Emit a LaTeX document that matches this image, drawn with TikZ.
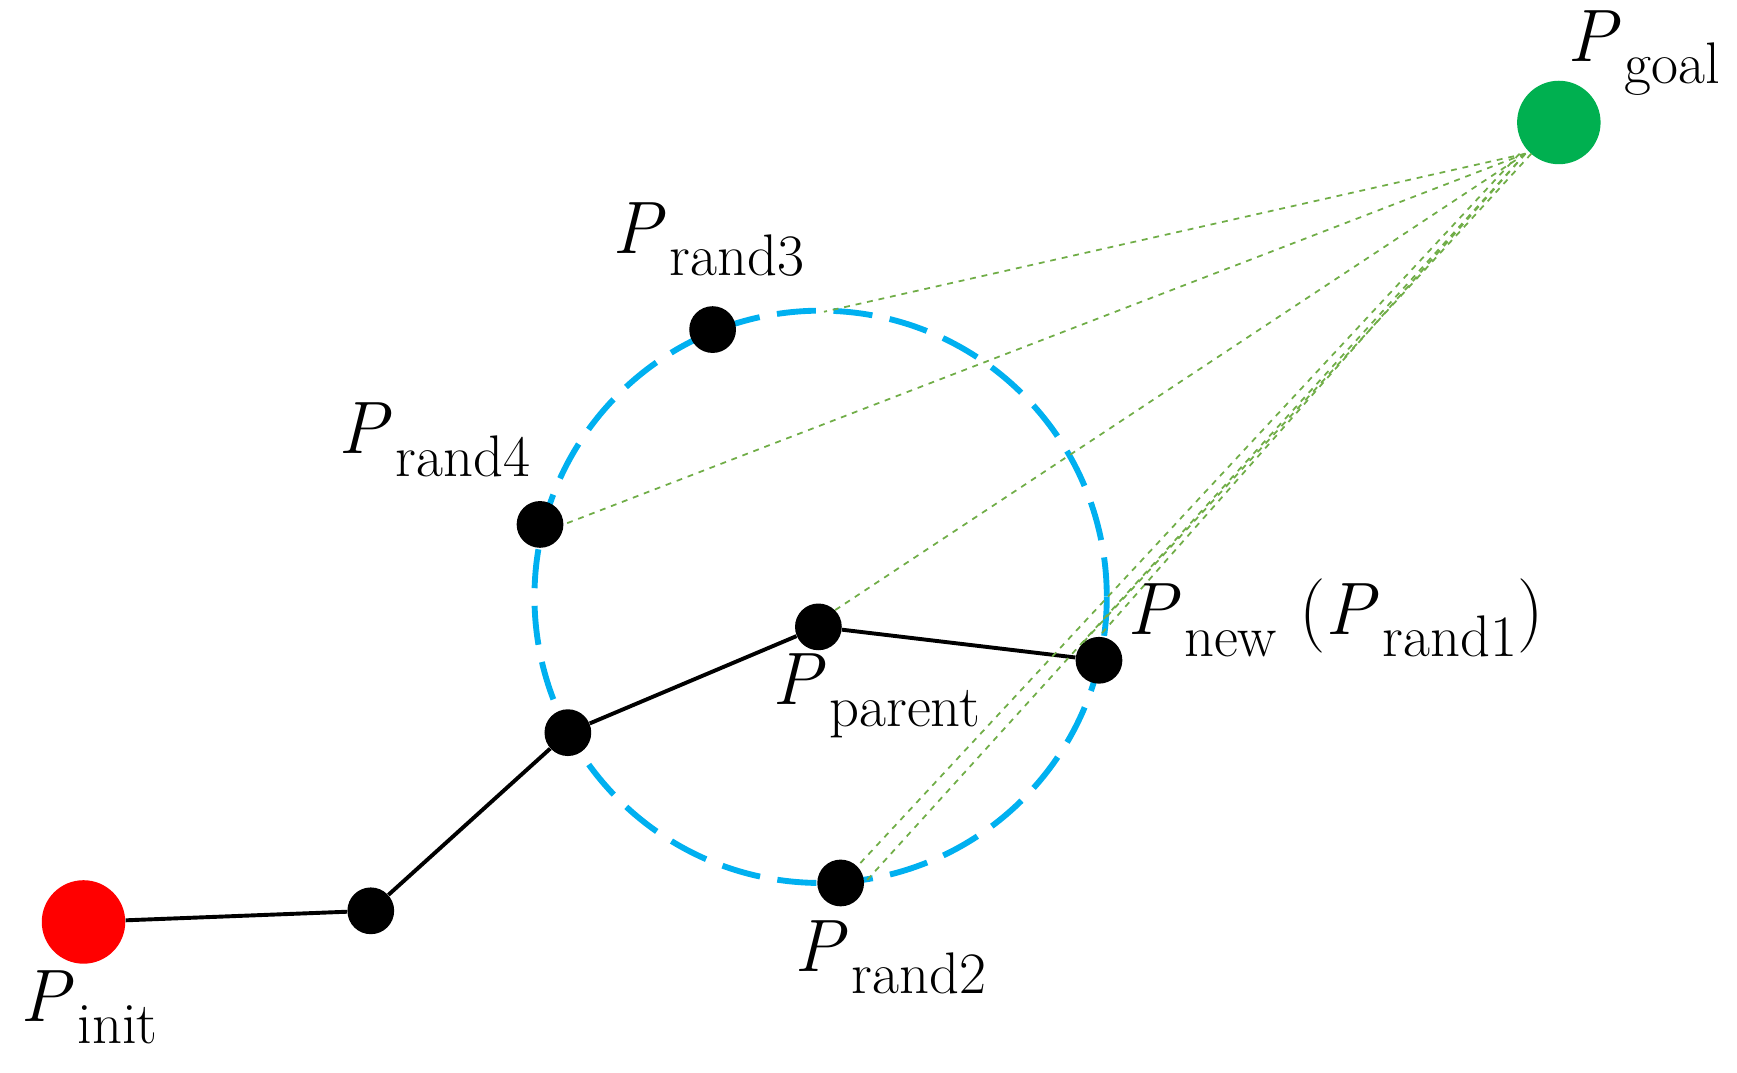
\documentclass[tikz,border=0pt]{standalone}
\begin{document}
\newcommand\lsub[1]{\raisebox{-0.3em}{\fontsize{30}{34}\selectfont\rmfamily #1}}
\newcommand\PP{\textit{P}\kern0.05em}
\definecolor{cy}{RGB}{0,176,240}
\definecolor{gd}{RGB}{112,173,71}
\definecolor{gg}{RGB}{0,176,80}
\begin{tikzpicture}[x=0.02cm,y=-0.02cm,
  dot/.style={circle,fill=black,inner sep=0pt,minimum size=0.84cm},
  big/.style={circle,inner sep=0pt,minimum size=1.5cm},
  lab/.style={font=\fontsize{38}{44}\selectfont,inner sep=0pt},
  gl/.style={gd,dashed,line width=0.9pt},
  tree/.style={line width=2pt,black}]
\useasboundingbox (0,0) rectangle (1560,963);
\draw[cy,line width=3pt,dash pattern=on 20pt off 9pt] (737,536) circle (257);
\node[big,fill=red] (init) at (75,828) {};
\node[big,fill=gg] (goal) at (1400,110) {};
\node[dot] (n1) at (333,818) {};
\node[dot] (n2) at (510,658) {};
\node[dot] (par) at (735,563) {};
\node[dot] (new) at (987,593) {};
\node[dot] (r2) at (755,793) {};
\node[dot] (r4) at (485,471) {};
\node[dot] (r3) at (640,296) {};
\coordinate (g) at (1370,138);
\coordinate (c3) at (740,280);
\draw[tree] (init) -- (n1) -- (n2) -- (par) -- (new);
\draw[gl] (g) -- (c3);
\draw[gl] (g) -- (r4.east);
\draw[gl] (g) -- (par.north east);
\draw[gl] (g) -- (new.north);
\draw[gl] ([xshift=3pt]g) -- (new.north west);
\draw[gl] (g) -- (r2.east);
\draw[gl] ([xshift=-3pt]g) -- (r2.north east);
\node[lab,anchor=east] (lg) at (1545,48) {\PP\lsub{goal}};
\node[lab] (l3) at (636,215) {\PP\lsub{rand3}};
\node[lab] (l4) at (390,395) {\PP\lsub{rand4}};
\node[lab,anchor=west] (ln) at (1012,555) {\PP\lsub{new} (\PP\lsub{rand1})};
\node[lab] (lp) at (787,625) {\PP\lsub{parent}};
\node[lab] (l2) at (800,860) {\PP\lsub{rand2}};
\node[lab] (li) at (80,905) {\PP\lsub{init}};
\end{tikzpicture}
\end{document}
